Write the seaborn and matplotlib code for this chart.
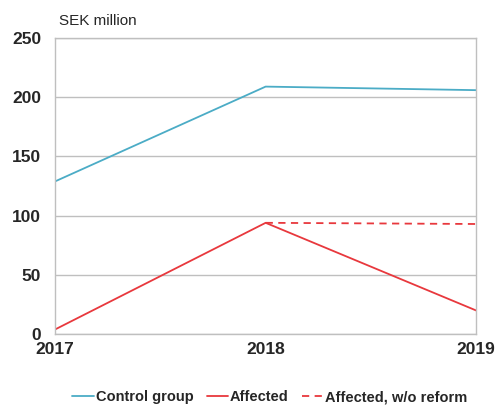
import pandas as pd
import matplotlib.pyplot as plt
import seaborn as sns

# data
years = [2017, 2018, 2019]
control_group = [129, 209, 206]
affected = [4, 94, 20]
years_no_reform = [2018, 2019]
affected_no_reform = [94, 93]

sns.set_style("white")
plt.rcParams["font.family"] = ["Liberation Sans", "DejaVu Sans"]

df = pd.DataFrame({"year": years, "Control group": control_group, "Affected": affected})
df_nr = pd.DataFrame({"year": years_no_reform, "Affected, w/o reform": affected_no_reform})

fig = plt.figure(figsize=(4.97, 4.09), dpi=100)
ax = fig.add_axes([0.111, 0.183, 0.847, 0.724])

blue = "#4BACC6"
red = "#E8383D"
sns.lineplot(data=df, x="year", y="Control group", color=blue, lw=1.3, ax=ax, label="Control group")
sns.lineplot(data=df, x="year", y="Affected", color=red, lw=1.3, ax=ax, label="Affected")
sns.lineplot(data=df_nr, x="year", y="Affected, w/o reform", color=red, lw=1.3,
             linestyle=(0, (4, 3)), ax=ax, label="Affected, w/o reform")

ax.set_xlim(2017, 2019)
ax.set_ylim(0, 250)
ax.set_xticks(years)
ax.set_yticks(range(0, 251, 50))
ax.grid(axis="y", color="#BFBFBF", lw=1)
for s in ax.spines.values():
    s.set_color("#BFBFBF")
    s.set_linewidth(1)
ax.tick_params(axis="y", length=0, labelsize=12.5, pad=10)
ax.tick_params(axis="x", length=4, color="#BFBFBF", direction="out", labelsize=12.5, pad=2)
for t in ax.get_xticklabels() + ax.get_yticklabels():
    t.set_fontweight("bold")
ax.set_xlabel("")
ax.set_ylabel("")
ax.text(0.01, 1.035, "SEK million", transform=ax.transAxes, fontsize=11, ha="left", va="bottom")

leg = ax.legend(loc="upper center", bbox_to_anchor=(0.51, -0.145), ncol=3, frameon=False,
                handlelength=1.5, handletextpad=0.1, columnspacing=0.9,
                prop={"weight": "bold", "size": 10.5})

fig.savefig("out.png", dpi=100)
